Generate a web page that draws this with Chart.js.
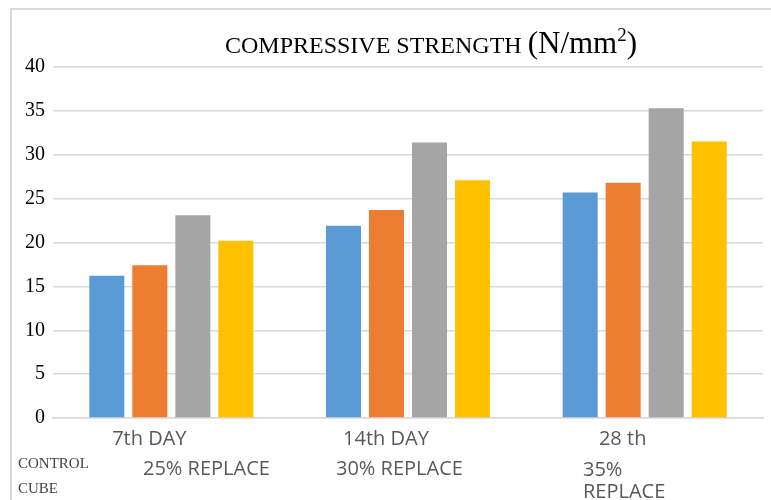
<!DOCTYPE html>
<html>
<head>
<meta charset="utf-8">
<script src="https://cdn.jsdelivr.net/npm/chart.js@4.4.1/dist/chart.umd.min.js"></script>
<style>
  html, body { margin: 0; padding: 0; background: #fff; }
  #wrap { position: relative; width: 771px; height: 500px; overflow: hidden; }
  #frame { position: absolute; left: 10px; top: 8px; width: 800px; height: 600px;
           border-top: 2px solid #d9d9d9; border-left: 2px solid #d9d9d9; }
  canvas { position: absolute; left: 0; top: 0; }
  .lg { position: absolute; color: #595959; font-family: "Open Sans", sans-serif;
        font-size: 20px; line-height: 22px; }
  .lg.first { font-family: "Liberation Serif", serif; font-size: 15px; line-height: 25px; color: #444; }
</style>
</head>
<body>
<div id="wrap">
  <div id="frame"></div>
  <canvas id="chart" width="771" height="500"></canvas>
  <div id="legend"></div>
</div>
<script>
// ===== DATA =====
const categories = ["7th DAY", "14th DAY", "28 th"];
const seriesNames = ["CONTROL CUBE", "25% REPLACE", "30% REPLACE", "35% REPLACE"];
const controlCube = [16.2, 21.9, 25.7];
const replace25 = [17.4, 23.7, 26.8];
const replace30 = [23.1, 31.4, 35.3];
const replace35 = [20.2, 27.1, 31.5];
const yTicks = [0, 5, 10, 15, 20, 25, 30, 35, 40];

const colors = ["#5B9BD5", "#ED7D31", "#A5A5A5", "#FFC000"];
const seriesValues = [controlCube, replace25, replace30, replace35];

// legend text sits under the axis labels, no swatches (as in the original)
const legendSlots = [
  { left: 18, top: 451, width: 80, first: true },
  { left: 143, top: 457, width: 160 },
  { left: 336, top: 457, width: 160 },
  { left: 583, top: 458, width: 80 }
];
const legend = document.getElementById("legend");
seriesNames.forEach((name, i) => {
  const s = legendSlots[i];
  const d = document.createElement("div");
  d.className = "lg" + (s.first ? " first" : "");
  d.style.left = s.left + "px";
  d.style.top = s.top + "px";
  d.style.width = s.width + "px";
  d.textContent = name;
  legend.appendChild(d);
});

// ===== TITLE (mixed sizes, serif, real superscript) =====
const titlePlugin = {
  id: "mixedTitle",
  afterDraw(chart) {
    const ctx = chart.ctx;
    const parts = [
      { t: "COMPRESSIVE STRENGTH ", size: 24, dy: 0 },
      { t: "(N/mm", size: 31, dy: 0 },
      { t: "2", size: 19, dy: -12 },
      { t: ")", size: 31, dy: 0 }
    ];
    ctx.save();
    ctx.fillStyle = "#000";
    ctx.textBaseline = "alphabetic";
    let total = 0;
    parts.forEach(p => {
      ctx.font = p.size + "px 'Liberation Serif'";
      p.w = ctx.measureText(p.t).width;
      total += p.w;
    });
    let x = 431 - total / 2;
    parts.forEach(p => {
      ctx.font = p.size + "px 'Liberation Serif'";
      ctx.fillText(p.t, x, 53 + p.dy);
      x += p.w;
    });
    ctx.restore();
  }
};

// ===== CHART =====
new Chart(document.getElementById("chart"), {
  type: "bar",
  data: {
    labels: categories,
    datasets: seriesNames.map((name, i) => ({
      label: name,
      data: seriesValues[i],
      backgroundColor: colors[i],
      borderWidth: 0,
      categoryPercentage: 0.727,
      barPercentage: 0.814
    }))
  },
  options: {
    responsive: false,
    animation: false,
    layout: { padding: { left: 0, right: 8, top: 67, bottom: 0 } },
    plugins: {
      legend: { display: false },
      title: { display: false },
      tooltip: { enabled: false }
    },
    scales: {
      x: {
        grid: { display: false, drawTicks: false },
        border: { display: true, color: "#d9d9d9", width: 1.5 },
        ticks: {
          color: "#595959",
          font: { family: "'Open Sans'", size: 20 },
          padding: 9,
          labelOffset: -22,
          maxRotation: 0
        },
        afterFit(scale) { scale.height = 82; }
      },
      y: {
        min: 0,
        max: 40,
        afterBuildTicks(scale) { scale.ticks = yTicks.map(v => ({ value: v })); },
        grid: { color: "#d9d9d9", lineWidth: 1.5, drawTicks: false },
        border: { display: false },
        ticks: {
          color: "#000",
          font: { family: "'Liberation Serif'", size: 20 },
          padding: 8
        },
        afterFit(scale) { scale.width = 53; }
      }
    }
  },
  plugins: [titlePlugin]
});
</script>
</body>
</html>
